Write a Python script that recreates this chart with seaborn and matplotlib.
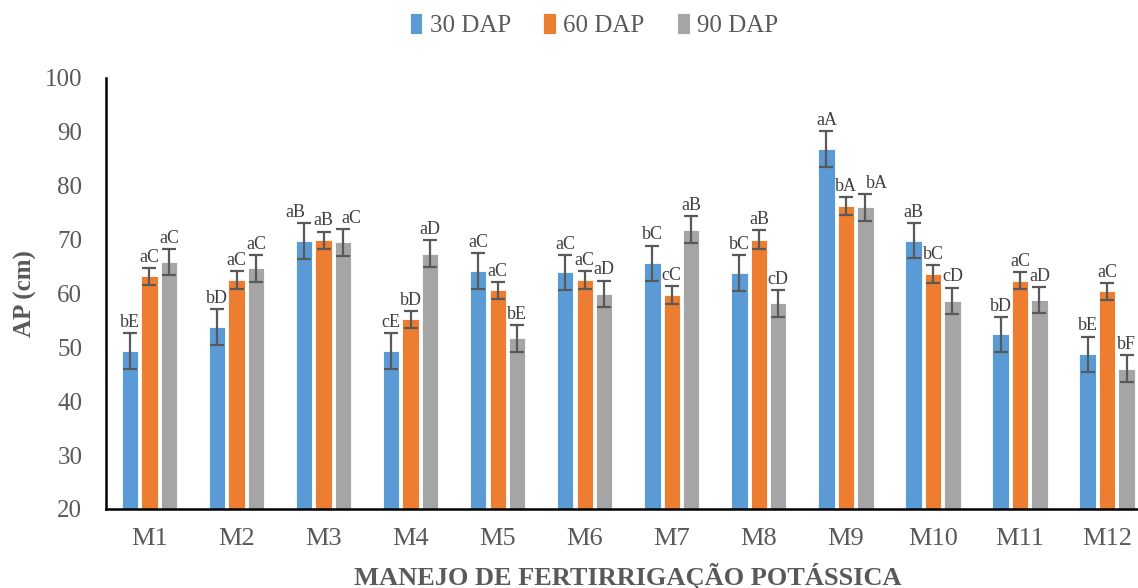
import pandas as pd
import matplotlib.pyplot as plt
import seaborn as sns

# Data
treatments = ["M1", "M2", "M3", "M4", "M5", "M6", "M7", "M8", "M9", "M10", "M11", "M12"]
series = ["30 DAP", "60 DAP", "90 DAP"]

ap_30 = [49.3, 53.8, 69.7, 49.3, 64.2, 63.9, 65.6, 63.8, 86.8, 69.8, 52.4, 48.7]
ap_60 = [63.2, 62.5, 69.9, 55.2, 60.6, 62.5, 59.7, 70.0, 76.2, 63.6, 62.4, 60.4]
ap_90 = [65.8, 64.7, 69.5, 67.4, 51.7, 59.9, 71.8, 58.2, 76.0, 58.6, 58.8, 46.0]

err_30 = [3.3, 3.3, 3.3, 3.3, 3.3, 3.3, 3.3, 3.3, 3.3, 3.3, 3.3, 3.3]
err_60 = [1.6, 1.7, 1.6, 1.6, 1.6, 1.6, 1.6, 1.7, 1.7, 1.6, 1.6, 1.6]
err_90 = [2.4, 2.5, 2.5, 2.5, 2.5, 2.5, 2.5, 2.5, 2.5, 2.5, 2.4, 2.5]

lab_30 = ["bE", "bD", "aB", "cE", "aC", "aC", "bC", "bC", "aA", "aB", "bD", "bE"]
lab_60 = ["aC", "aC", "aB", "bD", "aC", "aC", "cC", "aB", "bA", "bC", "aC", "aC"]
lab_90 = ["aC", "aC", "aC", "aD", "bE", "aD", "aB", "cD", "bA", "cD", "aD", "bF"]

colors = ["#5B9BD5", "#ED7D31", "#A5A5A5"]

# a few letters sit beside their bar in the original (offset in points)
nudge = {("30 DAP", "M3"): -6, ("90 DAP", "M3"): 6, ("90 DAP", "M9"): 8}

# Long-form table for seaborn
rows = []
for s, vals, errs, labs in zip(series, [ap_30, ap_60, ap_90],
                               [err_30, err_60, err_90],
                               [lab_30, lab_60, lab_90]):
    for t, v, e, l in zip(treatments, vals, errs, labs):
        rows.append({"trat": t, "dap": s, "ap": v, "err": e, "lab": l})
df = pd.DataFrame(rows)

sns.set_style("white")
plt.rcParams["font.family"] = ["Liberation Serif", "DejaVu Serif"]

fig = plt.figure(figsize=(11.38, 5.88), dpi=100)
ax = fig.add_axes([0.0931, 0.1344, 0.918, 0.733])

sns.barplot(data=df, x="trat", y="ap", hue="dap", order=treatments,
            hue_order=series, palette=colors, saturation=1, width=0.67, gap=0.16,
            errorbar=None, edgecolor="white", linewidth=0.6, ax=ax)

# error bars and letters, placed on the bars drawn by seaborn
for container, s in zip(ax.containers, series):
    sub = df[df["dap"] == s].set_index("trat").loc[treatments]
    xs = [p.get_x() + p.get_width() / 2 for p in container.patches]
    ax.errorbar(xs, sub["ap"], yerr=sub["err"], fmt="none",
                ecolor="#595959", elinewidth=1.6, capsize=5, capthick=1.6)
    for x, t, v, e, l in zip(xs, treatments, sub["ap"], sub["err"], sub["lab"]):
        ax.annotate(l, (x, v + e), xytext=(nudge.get((s, t), 0), 1.5),
                    textcoords="offset points", ha="center", va="bottom",
                    fontsize=13, color="#404040")

ax.set_ylim(20, 100)
ax.set_yticks(range(20, 101, 10))
ax.set_xlim(-0.5, len(treatments) - 0.5)

ax.set_ylabel("AP (cm)", fontsize=18, fontweight="bold", color="#595959", labelpad=6)
ax.set_xlabel("MANEJO DE FERTIRRIGAÇÃO POTÁSSICA", fontsize=19,
              fontweight="bold", color="#595959", labelpad=9)
ax.tick_params(axis="y", length=0, pad=17, labelsize=18, labelcolor="#595959")
ax.tick_params(axis="x", length=0, pad=14, labelsize=19, labelcolor="#595959")

for side in ["top", "right"]:
    ax.spines[side].set_visible(False)
for side in ["left", "bottom"]:
    ax.spines[side].set_color("black")
    ax.spines[side].set_linewidth(1.8)

ax.legend_.remove()
handles, labels = ax.get_legend_handles_labels()
fig.legend(handles, labels, loc="center", bbox_to_anchor=(0.522, 0.957), ncol=3,
           frameon=False, fontsize=18, handlelength=0.5, handleheight=0.9,
           handletextpad=0.3, columnspacing=1.3, labelcolor="#595959")

fig.savefig("out.png", dpi=100)
